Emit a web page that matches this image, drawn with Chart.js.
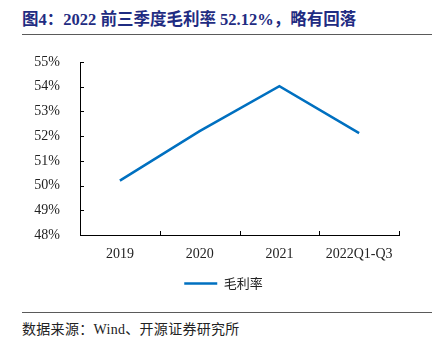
<!DOCTYPE html>
<html>
<head>
<meta charset="utf-8">
<script src="https://cdn.jsdelivr.net/npm/chart.js@4.4.0/dist/chart.umd.min.js"></script>
<style>
  html, body { margin: 0; padding: 0; background: #fff; }
  body { width: 438px; height: 346px; position: relative; overflow: hidden; }
  #title {
    position: absolute; left: 22px; top: 6px;
    font: bold 16.5px "Liberation Serif", "Noto Sans CJK SC", serif;
    color: #1f2c82; white-space: nowrap;
  }
  #rule1 { position: absolute; left: 22px; top: 34px; width: 410px; height: 0; border-top: 1.5px solid #5a5a5a; }
  #rule2 { position: absolute; left: 22px; top: 312px; width: 410px; height: 0; border-top: 1.5px solid #5a5a5a; }
  #source {
    position: absolute; left: 22px; top: 318px;
    font: 14px "Liberation Serif", "Noto Sans CJK SC", serif;
    color: #222; white-space: nowrap; letter-spacing: 0.3px;
  }
  #wrap { position: absolute; left: 0; top: 40px; width: 438px; height: 260px; }
</style>
</head>
<body>
<div id="title">图4：2022 前三季度毛利率 52.12%，略有回落</div>
<div id="rule1"></div>
<div id="wrap"><canvas id="margin-chart"></canvas></div>
<div id="rule2"></div>
<div id="source">数据来源：Wind、开源证券研究所</div>
<script>
// x axis categories
const periods = ['2019', '2020', '2021', '2022Q1-Q3'];
// gross margin, %
const grossMargin = [50.2, 52.2, 54.02, 52.12];
const seriesName = '毛利率';
// y axis range, %
const yMin = 48;
const yMax = 55;

const blue = '#0070c0';

// short tick marks pointing into the plot
const innerTicks = {
  id: 'innerTicks',
  afterLayout(chart) {
    // legend sits a little right of the default centre
    chart.legend.left += 24;
    chart.legend.right += 24;
  },
  afterDraw(chart) {
    const ctx = chart.ctx;
    const xs = chart.scales.x;
    const ys = chart.scales.y;
    const area = chart.chartArea;
    ctx.save();
    ctx.strokeStyle = '#000';
    ctx.lineWidth = 1;
    ctx.beginPath();
    ys.ticks.forEach(t => {
      const y = Math.round(ys.getPixelForValue(t.value)) + 0.5;
      ctx.moveTo(area.left, y);
      ctx.lineTo(area.left + 4, y);
    });
    for (let i = 0; i <= periods.length; i++) {
      const x = Math.round(xs.getPixelForValue(i - 0.5)) + 0.5;
      ctx.moveTo(x, area.bottom);
      ctx.lineTo(x, area.bottom - 4);
    }
    ctx.stroke();
    ctx.restore();
  }
};

new Chart(document.getElementById('margin-chart'), {
  type: 'line',
  data: {
    labels: periods,
    datasets: [{
      label: seriesName,
      data: grossMargin,
      borderColor: blue,
      backgroundColor: blue,
      borderWidth: 2.5,
      pointRadius: 0,
      tension: 0
    }]
  },
  options: {
    responsive: true,
    maintainAspectRatio: false,
    animation: false,
    layout: { padding: { top: 22, right: 39, left: 0, bottom: 0 } },
    plugins: {
      legend: {
        position: 'bottom',
        labels: {
          usePointStyle: true,
          pointStyle: 'line',
          pointStyleWidth: 33,
          padding: 12,
          color: '#222',
          font: { family: '"Noto Sans CJK SC", sans-serif', size: 13 }
        }
      },
      tooltip: { enabled: false }
    },
    scales: {
      x: {
        offset: true,
        grid: { display: false },
        border: { display: true, color: '#000', width: 1 },
        ticks: {
          color: '#222', padding: 3,
          font: { family: '"Liberation Serif", serif', size: 14 }
        },
        afterFit(scale) { scale.height = 30; }
      },
      y: {
        min: yMin,
        max: yMax,
        grid: { display: false },
        border: { display: true, color: '#000', width: 1 },
        ticks: {
          stepSize: 1,
          color: '#222', padding: 12,
          font: { family: '"Liberation Serif", serif', size: 14 },
          callback: v => v + '%'
        },
        afterFit(scale) { scale.width = 80; }
      }
    }
  },
  plugins: [innerTicks]
});
</script>
</body>
</html>
